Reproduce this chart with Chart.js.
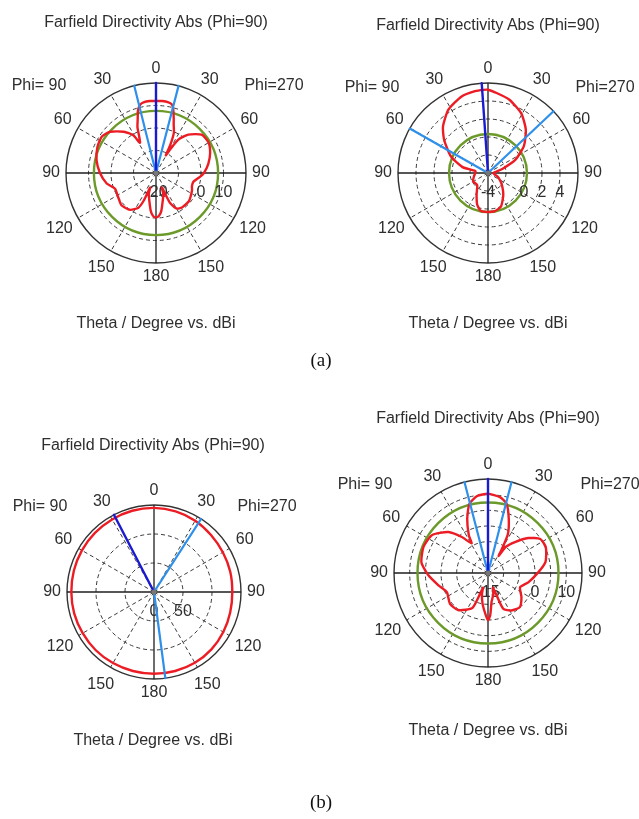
<!DOCTYPE html>
<html>
<head>
<meta charset="utf-8">
<title>Farfield Directivity Abs (Phi=90)</title>
<script src="https://cdn.jsdelivr.net/npm/chart.js@4.4.0/dist/chart.umd.min.js"></script>
<style>
  html, body { margin: 0; padding: 0; background: #fff; }
  #page { position: relative; width: 639px; height: 819px; overflow: hidden;
          font-family: "Liberation Sans", Arial, sans-serif; color: #2e2e2e; }
  #page canvas { position: absolute; left: 0; top: 0; }
  .txt { position: absolute; transform: translate(-50%, -50%); white-space: nowrap; font-size: 16px; }
  .cap { position: absolute; transform: translate(-50%, -50%); white-space: nowrap;
         font-family: "Liberation Serif", "Times New Roman", serif; font-size: 19px; color: #111; }
</style>
</head>
<body>
<div id="page"></div>
<script>
// Angles are screen angles, clockwise from the top: 0..180 is the Phi=270 half
// (theta = angle), 180..360 is the Phi=90 half (theta = 360 - angle).

// theta tick labels around the rim
const thetaAngles = [0, 30, 60, 90, 120, 150, 180, 210, 240, 270, 300, 330];
const thetaLabels = ['0', '30', '60', '90', '120', '150', '180', '150', '120', '90', '60', '30'];

// (a) left: directivity in dBi
const p1Angles = [0, 5, 10, 13, 15, 18, 20, 24, 27, 29, 31, 34, 40, 50, 60, 70, 80, 90, 95, 103, 110, 116,
  130, 143, 150, 155, 158, 161, 166, 172, 176, 180, 184, 188, 194, 199, 202, 204, 207, 215, 227, 238,
  249, 258, 270, 282, 294, 304, 312, 322, 329, 332, 335, 338, 341, 344, 347, 350, 355];
const p1Gain = [12.0, 12.1, 11.9, 11.3, 9.5, 5.5, 3.0, -0.5, -6.0, -11.0, -7.5, -2.0, 2.3, 6.5, 7.0, 5.6, 3.6, 1.3, -0.4, -2.9, -3.0, -2.2,
  -0.8, -0.8, -1.8, -5.5, -13.0, -10.0, -7.5, -3.0, -0.9, -0.2, -0.9, -3.1, -7.6, -10.2, -13.0, -6.5, -2.7, 0.0, 1.0, -0.1,
  -0.5, 2.4, 4.9, 7.0, 8.5, 9.0, 7.4, 3.3, -0.4, -4.8, -2.4, 2.0, 5.0, 9.0, 11.2, 11.9, 12.1];
const p1Level = 7.6;
const p1Main = 0;
const p1Width = [346, 14.5];
const p1RadialTicks = [-20, 0, 10];

// (a) right
const p2Angles = [0, 5, 16, 29, 41, 53, 64, 74, 82, 90, 100, 110, 120, 130, 140, 147, 159, 170, 180, 191,
  199, 208, 222, 241, 257, 278, 283, 294, 307, 316, 328, 341, 351, 357];
const p2Gain = [5.25, 5.0, 4.5, 3.6, 2.4, 1.0, -0.6, -2.35, -3.2, -3.4, -3.3, -2.9, -2.5, -2.0, -1.4, -0.9, 0.0, 0.3, 0.33, 0.27,
  -0.3, -1.3, -2.2, -2.1, -2.4, -2.6, -1.1, 0.5, 2.1, 3.2, 4.3, 5.0, 5.2, 5.25];
const p2Level = 0.33;
const p2Main = 356;
const p2Width = [299.6, 46.7];
const p2RadialTicks = [-4, 0, 2, 4];

// (b) left
const p3Angles = [0, 15, 30, 45, 60, 75, 90, 105, 120, 135, 150, 165,
  180, 195, 210, 225, 240, 255, 270, 285, 300, 315, 330, 345];
const p3Gain = [145, 144, 142, 139, 137, 136, 135, 136, 138, 140, 141, 141,
  141, 141, 141.5, 142, 142, 142.5, 142.5, 143, 143.5, 144, 144.5, 145];
const p3Level = null;
const p3Main = 332.6;
const p3Width = [32.8, 172.5];
const p3RadialTicks = [0, 50];

// (b) right
const p4Angles = [0, 9, 15, 21, 27, 30, 32, 34, 41, 49, 57, 66, 79, 89, 103, 114, 126, 137, 148, 157,
  161, 166, 173, 177, 180, 183, 190, 196, 199, 204, 219, 231, 245, 256, 268, 279, 292, 304, 316, 324,
  331, 333, 339, 345, 352];
const p4Gain = [10.3, 9.5, 7.9, 3.5, -1.0, -6.0, -8.6, -5.0, -1.9, 2.0, 4.9, 5.2, 3.7, 1.1, -1.8, -3.8, -1.8, -0.1, -0.9, -2.6,
  -10.0, -8.0, -5.7, -1.5, 0.1, -1.5, -5.0, -8.0, -10.0, -2.8, 0.2, 0.6, -0.5, 1.3, 4.1, 6.5, 7.2, 6.6, 3.2, -0.8,
  -4.2, -1.5, 3.5, 7.9, 9.8];
const p4Level = 7.5;
const p4Main = 0;
const p4Width = [345.5, 14.5];
const p4RadialTicks = [-15, 0, 10];

const RED = '#ec1c24';
const GREEN = '#6c9a2a';
const DARK_BLUE = '#1a1ad2';
const LIGHT_BLUE = '#2e90ea';
const TEXT = '#2e2e2e';

const PAGE_W = 639, PAGE_H = 819;

const plots = [
  { cx: 156, cy: 173, R: 90, min: -20, max: 20, step: 10, tension: 0.2,
    angles: p1Angles, gain: p1Gain, level: p1Level, main: p1Main, width: p1Width, radial: p1RadialTicks,
    title: [156, 22], xlabel: [156, 323], phiL: [39, 85], phiR: [274, 85] },
  { cx: 488, cy: 173, R: 90, min: -4, max: 6, step: 2, tension: 0.2,
    angles: p2Angles, gain: p2Gain, level: p2Level, main: p2Main, width: p2Width, radial: p2RadialTicks,
    title: [488, 25], xlabel: [488, 323], phiL: [372, 87], phiR: [605, 87] },
  { cx: 154, cy: 592, R: 87, min: 0, max: 150, step: 50, tension: 0.4,
    angles: p3Angles, gain: p3Gain, level: p3Level, main: p3Main, width: p3Width, radial: p3RadialTicks,
    title: [153, 445], xlabel: [153, 740], phiL: [40, 506], phiR: [267, 506] },
  { cx: 488, cy: 573, R: 94, min: -15, max: 15, step: 5, tension: 0.2,
    angles: p4Angles, gain: p4Gain, level: p4Level, main: p4Main, width: p4Width, radial: p4RadialTicks,
    title: [488, 418], xlabel: [488, 730], phiL: [365, 484], phiR: [610, 484] }
];

const captions = [['(a)', 321, 360], ['(b)', 321, 802]];

// 1 degree per radar spoke
const spokes = Array.from({ length: 360 }, (_, i) => i);

const page = document.getElementById('page');

function addText(cls, text, x, y) {
  const el = document.createElement('div');
  el.className = cls;
  el.textContent = text;
  el.style.left = x + 'px';
  el.style.top = y + 'px';
  page.appendChild(el);
}

function makeDecor(p) {
  return {
    id: 'polarDecor',
    beforeDatasetsDraw(chart) {
      const s = chart.scales.r;
      const ctx = chart.ctx;
      ctx.save();
      if (p.level !== null) {
        ctx.beginPath();
        ctx.arc(s.xCenter, s.yCenter, s.getDistanceFromCenterForValue(p.level), 0, Math.PI * 2);
        ctx.lineWidth = 2.4;
        ctx.strokeStyle = GREEN;
        ctx.stroke();
      }
      ctx.fillStyle = TEXT;
      ctx.font = '16px "Liberation Sans", Arial, sans-serif';
      ctx.textAlign = 'center';
      ctx.textBaseline = 'middle';
      thetaAngles.forEach((a, i) => {
        const w = ctx.measureText(thetaLabels[i]).width;
        const rad = a * Math.PI / 180;
        const d = s.drawingArea + 6 + Math.abs(Math.sin(rad)) * w / 2 + Math.abs(Math.cos(rad)) * 8;
        const pos = s.getPointPosition(a, d);
        ctx.fillText(thetaLabels[i], pos.x, pos.y);
      });
      // dBi labels sit just under the 90 deg axis, right side
      p.radial.forEach(v => {
        ctx.fillText(String(v), s.xCenter + s.getDistanceFromCenterForValue(v), s.yCenter + 20);
      });
      ctx.restore();
    },
    afterDatasetsDraw(chart) {
      const s = chart.scales.r;
      const ctx = chart.ctx;
      const rim = s.getDistanceFromCenterForValue(s.max);
      ctx.save();
      ctx.lineCap = 'round';
      ctx.lineWidth = 2.2;
      ctx.strokeStyle = LIGHT_BLUE;
      p.width.forEach(a => {
        const end = s.getPointPosition(a, rim);
        ctx.beginPath();
        ctx.moveTo(s.xCenter, s.yCenter);
        ctx.lineTo(end.x, end.y);
        ctx.stroke();
      });
      const tip = s.getPointPosition(p.main, rim);
      ctx.strokeStyle = DARK_BLUE;
      ctx.lineWidth = 2.4;
      ctx.beginPath();
      ctx.moveTo(s.xCenter, s.yCenter);
      ctx.lineTo(tip.x, tip.y);
      ctx.stroke();
      ctx.fillStyle = '#777';
      ctx.beginPath();
      ctx.arc(s.xCenter, s.yCenter, 2.5, 0, Math.PI * 2);
      ctx.fill();
      ctx.restore();
    }
  };
}

plots.forEach(p => {
  const canvas = document.createElement('canvas');
  canvas.width = PAGE_W;
  canvas.height = PAGE_H;
  canvas.style.width = PAGE_W + 'px';
  canvas.style.height = PAGE_H + 'px';
  page.appendChild(canvas);

  const series = spokes.map(() => null);
  p.angles.forEach((a, i) => { series[a] = p.gain[i]; });

  new Chart(canvas, {
    type: 'radar',
    data: {
      labels: spokes,
      datasets: [{
        data: series,
        borderColor: RED,
        borderWidth: 2.4,
        fill: false,
        spanGaps: true,
        tension: p.tension,
        pointRadius: 0,
        pointHoverRadius: 0
      }]
    },
    options: {
      responsive: false,
      animation: false,
      events: [],
      layout: {
        padding: {
          left: p.cx - p.R,
          top: p.cy - p.R,
          right: PAGE_W - p.cx - p.R,
          bottom: PAGE_H - p.cy - p.R
        }
      },
      plugins: {
        legend: { display: false },
        tooltip: { enabled: false }
      },
      scales: {
        r: {
          min: p.min,
          max: p.max,
          startAngle: 0,
          ticks: { stepSize: p.step, display: false },
          pointLabels: { display: false },
          grid: {
            circular: true,
            color: ctx => ctx.tick && ctx.tick.value === p.max ? '#333' : '#3a3a3a',
            lineWidth: ctx => ctx.tick && ctx.tick.value === p.max ? 1.4 : 1
          },
          border: {
            dash: ctx => ctx.tick && ctx.tick.value === p.max ? [] : [4, 3]
          },
          angleLines: {
            color: ctx => ctx.index % 90 === 0 ? '#1e1e1e' : '#3a3a3a',
            lineWidth: ctx => ctx.index % 30 !== 0 ? 0 : (ctx.index % 90 === 0 ? 1.3 : 1),
            borderDash: ctx => ctx.index % 90 === 0 ? [] : [4, 3]
          }
        }
      }
    },
    plugins: [makeDecor(p)]
  });

  addText('txt', 'Farfield Directivity Abs (Phi=90)', p.title[0], p.title[1]);
  addText('txt', 'Phi= 90', p.phiL[0], p.phiL[1]);
  addText('txt', 'Phi=270', p.phiR[0], p.phiR[1]);
  addText('txt', 'Theta / Degree vs. dBi', p.xlabel[0], p.xlabel[1]);
});

captions.forEach(c => addText('cap', c[0], c[1], c[2]));
</script>
</body>
</html>
